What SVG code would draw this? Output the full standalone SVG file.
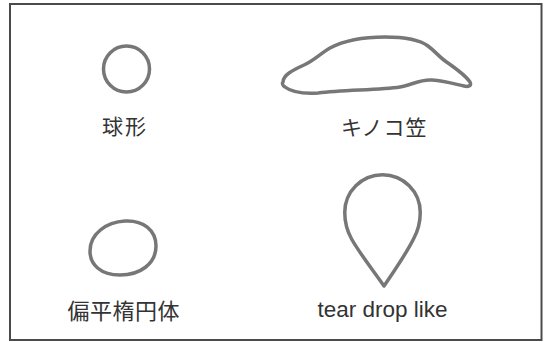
<svg xmlns="http://www.w3.org/2000/svg" width="546" height="342" viewBox="0 0 546 342">
  <style>
    .shape { fill: none; stroke: #777; stroke-width: 3.5; stroke-linejoin: round; stroke-linecap: round; }
    .jp { font-family: "Noto Sans CJK JP", "Noto Sans", sans-serif; fill: #333; }
    .en { font-family: "Liberation Sans", Arial, sans-serif; fill: #333; }
  </style>
  <rect x="0" y="0" width="546" height="342" fill="#fff"/>
  <rect id="frame" x="10" y="4" width="531.5" height="336" fill="none" stroke="#4a4a4a" stroke-width="2"/>

  <g id="sphere">
    <circle class="shape" cx="126.5" cy="69" r="23"/>
    <text class="jp" x="102" y="134" font-size="21" letter-spacing="2">球形</text>
  </g>

  <g id="mushroom-cap">
    <path class="shape" d="M 283,82 C 283,75 293,70 304,65 C 315,60 321,53 330,48 C 345,40 365,37 385,37 C 405,37 420,40 428,46 C 436,52 440,58 448,63 C 458,70 466,76 470,82 C 472,86 468,87 464,86 C 455,84 445,81 432,80 C 420,79 412,85 400,87 C 380,90 345,90 318,93 C 300,94 290,91 285,87 C 282,85 282,83 283,82 Z"/>
    <text class="jp" x="341" y="135" font-size="21" letter-spacing="1">キノコ笠</text>
  </g>

  <g id="oblate-ellipsoid">
    <path class="shape" d="M 125,221 C 143,220 156,230 156,246 C 156,264 140,275 120,275 C 101,275 90,265 90,251 C 90,234 106,222 125,221 Z"/>
    <text class="jp" x="67.5" y="318.5" font-size="22" letter-spacing="0.5">偏平楕円体</text>
  </g>

  <g id="tear-drop">
    <path class="shape" d="M 384,286 C 373,270 360,254 351.6,239 C 346,229 344.75,221 344.75,212.5 A 37.75 37.75 0 0 1 420.25,212.5 C 420.25,221 419,229 413.5,239 C 406,254 395,270 384,286 Z"/>
    <text class="en" x="317.5" y="317" font-size="22.5">tear drop like</text>
  </g>

  <g id="connectors"></g>
</svg>
